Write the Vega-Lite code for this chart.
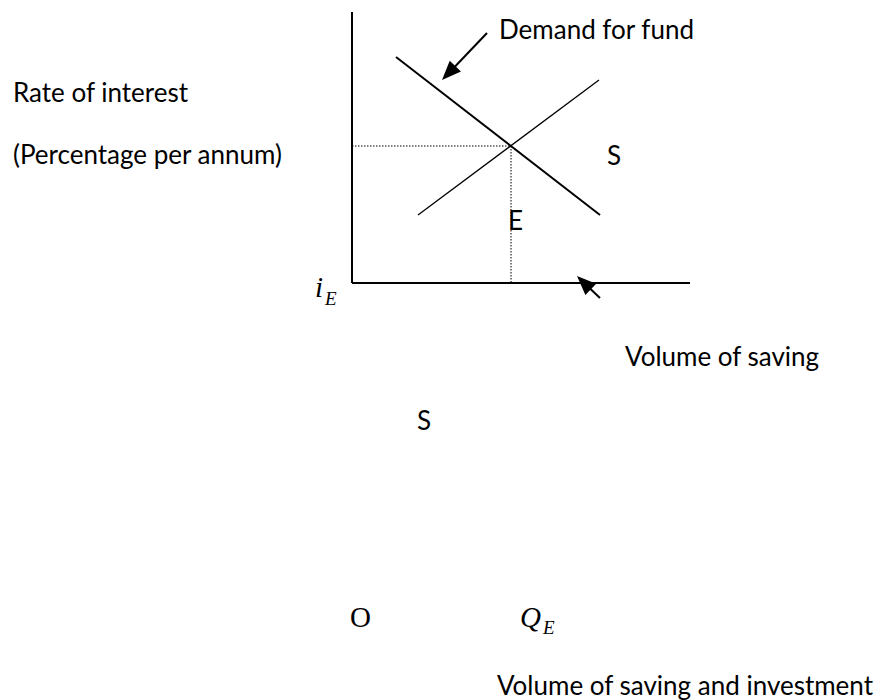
{
  "$schema": "https://vega.github.io/schema/vega-lite/v6.json",
  "width": 883,
  "height": 700,
  "autosize": {"type": "fit", "contains": "padding"},
  "padding": 0,
  "background": "white",
  "config": {"view": {"stroke": null}},
  "datasets": {
    "axes": [
      {"x": 352, "y": 688, "x2": 352, "y2": 417},
      {"x": 352, "y": 417, "x2": 690, "y2": 417}
    ],
    "demand": [{"x": 396, "y": 643, "x2": 600, "y2": 485}],
    "supply": [{"x": 418, "y": 485, "x2": 599, "y2": 620}],
    "guides": [
      {"x": 352, "y": 554, "x2": 511, "y2": 554},
      {"x": 511, "y": 554, "x2": 511, "y2": 417}
    ],
    "shafts": [
      {"x": 487, "y": 667, "x2": 446, "y2": 624},
      {"x": 600, "y": 402, "x2": 581, "y2": 420}
    ],
    "heads": [
      {"x": 442, "y": 620, "angle": 224},
      {"x": 577, "y": 424, "angle": 314}
    ],
    "sans": [
      {"x": 13, "y": 598, "label": "Rate of interest"},
      {"x": 13, "y": 536, "label": "(Percentage per annum)"},
      {"x": 499, "y": 661, "label": "Demand for fund"},
      {"x": 607, "y": 535, "label": "S"},
      {"x": 508, "y": 470, "label": "E"},
      {"x": 625, "y": 334, "label": "Volume of saving"},
      {"x": 417, "y": 270, "label": "S"}
    ],
    "sansRight": [
      {"x": 873, "y": 5, "label": "Volume of saving and investment"}
    ],
    "serif": [
      {"x": 350, "y": 73, "label": "O"}
    ],
    "italic": [
      {"x": 315, "y": 403, "label": "i"},
      {"x": 520, "y": 73, "label": "Q"}
    ],
    "subs": [
      {"x": 325, "y": 395, "label": "E"},
      {"x": 543, "y": 66, "label": "E"}
    ]
  },
  "encoding": {
    "x": {"field": "x", "type": "quantitative", "scale": {"domain": [0, 883], "nice": false, "zero": false}, "axis": null},
    "y": {"field": "y", "type": "quantitative", "scale": {"domain": [0, 700], "nice": false, "zero": false}, "axis": null}
  },
  "layer": [
    {
      "data": {"name": "axes"},
      "mark": {"type": "rule", "color": "black", "strokeWidth": 2},
      "encoding": {"x2": {"field": "x2"}, "y2": {"field": "y2"}}
    },
    {
      "data": {"name": "demand"},
      "mark": {"type": "rule", "color": "black", "strokeWidth": 2},
      "encoding": {"x2": {"field": "x2"}, "y2": {"field": "y2"}}
    },
    {
      "data": {"name": "supply"},
      "mark": {"type": "rule", "color": "black", "strokeWidth": 1.3},
      "encoding": {"x2": {"field": "x2"}, "y2": {"field": "y2"}}
    },
    {
      "data": {"name": "guides"},
      "mark": {"type": "rule", "color": "black", "strokeWidth": 1, "strokeDash": [1.5, 1.5]},
      "encoding": {"x2": {"field": "x2"}, "y2": {"field": "y2"}}
    },
    {
      "data": {"name": "shafts"},
      "mark": {"type": "rule", "color": "black", "strokeWidth": 2},
      "encoding": {"x2": {"field": "x2"}, "y2": {"field": "y2"}}
    },
    {
      "data": {"name": "heads"},
      "mark": {"type": "point", "shape": "M0,0L0.65,1.6L-0.65,1.6Z", "filled": true, "color": "black", "opacity": 1, "size": 576, "strokeWidth": 0},
      "encoding": {"angle": {"field": "angle", "type": "quantitative", "scale": null}}
    },
    {
      "data": {"name": "sans"},
      "mark": {"type": "text", "align": "left", "baseline": "alphabetic", "font": "Lato", "fontSize": 26, "color": "black"},
      "encoding": {"text": {"field": "label"}}
    },
    {
      "data": {"name": "sansRight"},
      "mark": {"type": "text", "align": "right", "baseline": "alphabetic", "font": "Lato", "fontSize": 26, "color": "black"},
      "encoding": {"text": {"field": "label"}}
    },
    {
      "data": {"name": "serif"},
      "mark": {"type": "text", "align": "left", "baseline": "alphabetic", "font": "Liberation Serif", "fontSize": 29, "color": "black"},
      "encoding": {"text": {"field": "label"}}
    },
    {
      "data": {"name": "italic"},
      "mark": {"type": "text", "align": "left", "baseline": "alphabetic", "font": "Liberation Serif", "fontStyle": "italic", "fontSize": 29, "color": "black"},
      "encoding": {"text": {"field": "label"}}
    },
    {
      "data": {"name": "subs"},
      "mark": {"type": "text", "align": "left", "baseline": "alphabetic", "font": "Liberation Serif", "fontStyle": "italic", "fontSize": 19, "color": "black"},
      "encoding": {"text": {"field": "label"}}
    }
  ]
}
